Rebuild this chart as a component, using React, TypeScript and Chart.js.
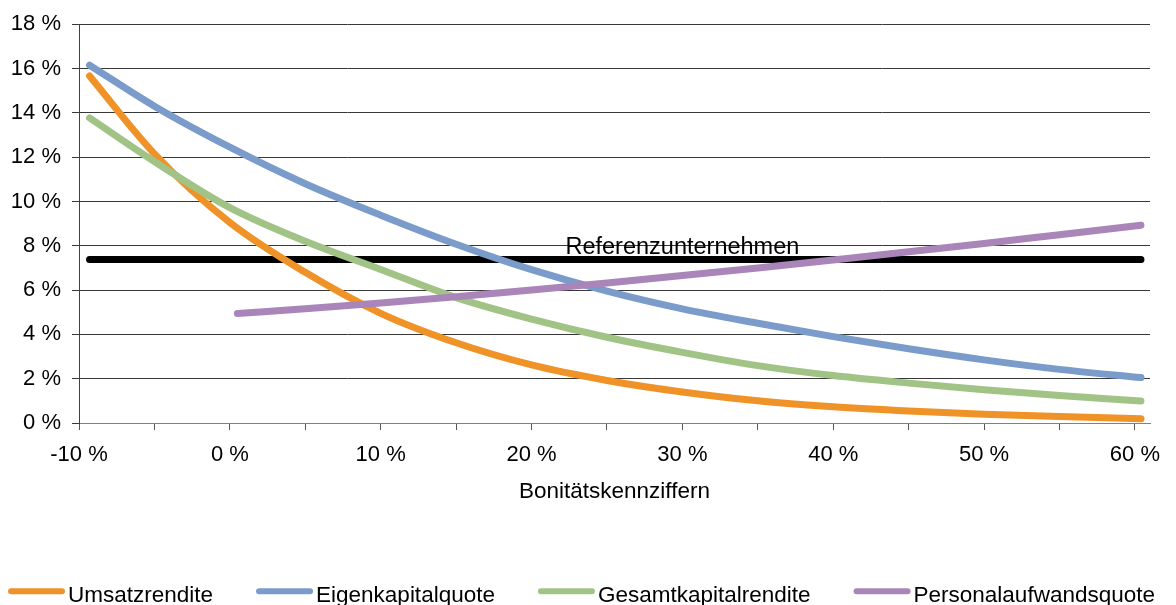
import React, { useEffect, useRef } from 'react';
import { Chart, registerables } from 'chart.js';

Chart.register(...registerables);

// ---------- data ----------
const X_TICKS = [-10, -5, 0, 5, 10, 15, 20, 25, 30, 35, 40, 45, 50, 55, 60];
const Y_TICKS = [0, 2, 4, 6, 8, 10, 12, 14, 16, 18];

const X_CURVES = [-9.3, -5, 0, 5, 10, 15, 20, 25, 30, 35, 40, 45, 50, 55, 60.4];
const UMSATZ = [15.66, 12.15, 9.05, 6.8, 4.95, 3.62, 2.62, 1.92, 1.4, 1.0, 0.73, 0.54, 0.4, 0.29, 0.19];
const EIGEN = [16.15, 14.3, 12.45, 10.8, 9.38, 8.07, 6.92, 5.95, 5.15, 4.5, 3.9, 3.35, 2.85, 2.42, 2.05];
const GESAMT = [13.77, 11.8, 9.72, 8.2, 6.93, 5.66, 4.69, 3.87, 3.19, 2.59, 2.14, 1.8, 1.5, 1.24, 0.99];

const X_PERSONAL = [0.5, 5, 10, 15, 20, 25, 30, 35, 40, 45, 50, 55, 60.4];
const PERSONAL = [4.94, 5.16, 5.42, 5.7, 6.0, 6.32, 6.66, 7.0, 7.36, 7.73, 8.1, 8.5, 8.93];

const X_REF = [-9.3, 60.4];
const REF = [7.38, 7.38];

const SERIES_LABELS = ['Umsatzrendite', 'Eigenkapitalquote', 'Gesamtkapitalrendite', 'Personalaufwandsquote'];
const REF_LABEL = 'Referenzunternehmen';
const REF_LABEL_AT_X = 30;
const X_TITLE = 'Bonitätskennziffern';

// ---------- styles ----------
const FONT = "'Liberation Sans', Arial, Helvetica, sans-serif";
const COLORS = ['#EF9328', '#7B9CCB', '#A1C486', '#A985B9'];
const REF_COLOR = '#000000';
const GRID = '#383838';

const pts = (xs: number[], ys: number[]) => xs.map((x, i) => ({ x, y: ys[i] }));

const legendPlugin = {
  id: 'customLegend',
  afterDraw(chart: any) {
    const ctx = chart.ctx;
    ctx.save();
    ctx.font = `22.5px ${FONT}`;
    ctx.textBaseline = 'alphabetic';
    ctx.textAlign = 'left';
    const items = chart.data.datasets.filter((d: any) => d.showInLegend);
    let x = 8;
    const lineY = 591.3;
    const textY = 601.5;
    items.forEach((ds: any) => {
      ctx.strokeStyle = ds.borderColor;
      ctx.lineWidth = 6;
      ctx.lineCap = 'round';
      ctx.beginPath();
      ctx.moveTo(x + 3, lineY);
      ctx.lineTo(x + 54, lineY);
      ctx.stroke();
      ctx.fillStyle = '#000';
      ctx.fillText(ds.label, x + 60, textY);
      x += 60 + ctx.measureText(ds.label).width + 43;
    });
    ctx.restore();
  },
};

const refLabelPlugin = {
  id: 'refLabel',
  afterDatasetsDraw(chart: any) {
    const ds = chart.data.datasets.find((d: any) => d.isReference);
    if (!ds) return;
    const ctx = chart.ctx;
    const xs = chart.scales.x;
    const ys = chart.scales.y;
    const px = xs.getPixelForValue(REF_LABEL_AT_X);
    const py = ys.getPixelForValue(ds.data[0].y) - 5;
    ctx.save();
    ctx.font = `23.5px ${FONT}`;
    ctx.fillStyle = '#000';
    ctx.textAlign = 'center';
    ctx.textBaseline = 'alphabetic';
    ctx.fillText(REF_LABEL, px, py);
    ctx.restore();
  },
};

export default function App() {
  const ref = useRef<HTMLCanvasElement | null>(null);

  useEffect(() => {
    if (!ref.current) return;
    Chart.defaults.font.family = FONT;
    Chart.defaults.color = '#000';

    const lineStyle = (color: string) => ({
      borderColor: color,
      backgroundColor: color,
      borderWidth: 7,
      pointRadius: 0,
      pointHoverRadius: 0,
      fill: false,
      cubicInterpolationMode: 'monotone' as const,
      borderCapStyle: 'round' as const,
      borderJoinStyle: 'round' as const,
    });

    const chart = new Chart(ref.current, {
      type: 'line',
      data: {
        datasets: [
          { label: REF_LABEL, data: pts(X_REF, REF), ...lineStyle(REF_COLOR), order: 4, isReference: true } as any,
          { label: SERIES_LABELS[0], data: pts(X_CURVES, UMSATZ), ...lineStyle(COLORS[0]), order: 3, showInLegend: true } as any,
          { label: SERIES_LABELS[1], data: pts(X_CURVES, EIGEN), ...lineStyle(COLORS[1]), order: 2, showInLegend: true } as any,
          { label: SERIES_LABELS[2], data: pts(X_CURVES, GESAMT), ...lineStyle(COLORS[2]), order: 1, showInLegend: true } as any,
          { label: SERIES_LABELS[3], data: pts(X_PERSONAL, PERSONAL), ...lineStyle(COLORS[3]), order: 0, showInLegend: true } as any,
        ],
      },
      options: {
        animation: false,
        responsive: true,
        maintainAspectRatio: false,
        events: [],
        layout: { padding: { top: 22, right: 26, bottom: 62, left: 0 } },
        plugins: {
          legend: { display: false },
          tooltip: { enabled: false },
        },
        scales: {
          x: {
            type: 'linear',
            min: -10,
            max: 61,
            afterBuildTicks: (s: any) => { s.ticks = X_TICKS.map((v) => ({ value: v })); },
            afterFit: (s: any) => { s.height = 120; },
            ticks: {
              autoSkip: false,
              maxRotation: 0,
              padding: 12,
              font: { size: 22 },
              color: '#000',
              callback: (v: any) => (Number(v) % 10 === 0 ? `${v} %` : ''),
            },
            grid: { display: true, drawOnChartArea: false, drawTicks: true, tickLength: 7, color: '#555', lineWidth: 1 },
            border: { display: true, color: '#808080', width: 1 },
            title: { display: true, text: X_TITLE, font: { size: 22.5 }, color: '#000', padding: { top: 0, bottom: 37.5 } },
          },
          y: {
            type: 'linear',
            min: 0,
            max: 18,
            afterBuildTicks: (s: any) => { s.ticks = Y_TICKS.map((v) => ({ value: v })); },
            afterFit: (s: any) => { s.width = 79; },
            ticks: {
              padding: 11,
              font: { size: 22 },
              color: '#000',
              callback: (v: any) => `${v} %`,
            },
            grid: { color: GRID, lineWidth: 1, tickLength: 7, drawTicks: true },
            border: { display: true, color: '#404040', width: 1 },
          },
        },
      },
      plugins: [refLabelPlugin, legendPlugin],
    } as any);

    return () => chart.destroy();
  }, []);

  return (
    <div style={{ position: 'fixed', left: 0, top: 0, width: 1176, height: 605, background: '#fff' }}>
      <canvas ref={ref} />
    </div>
  );
}
